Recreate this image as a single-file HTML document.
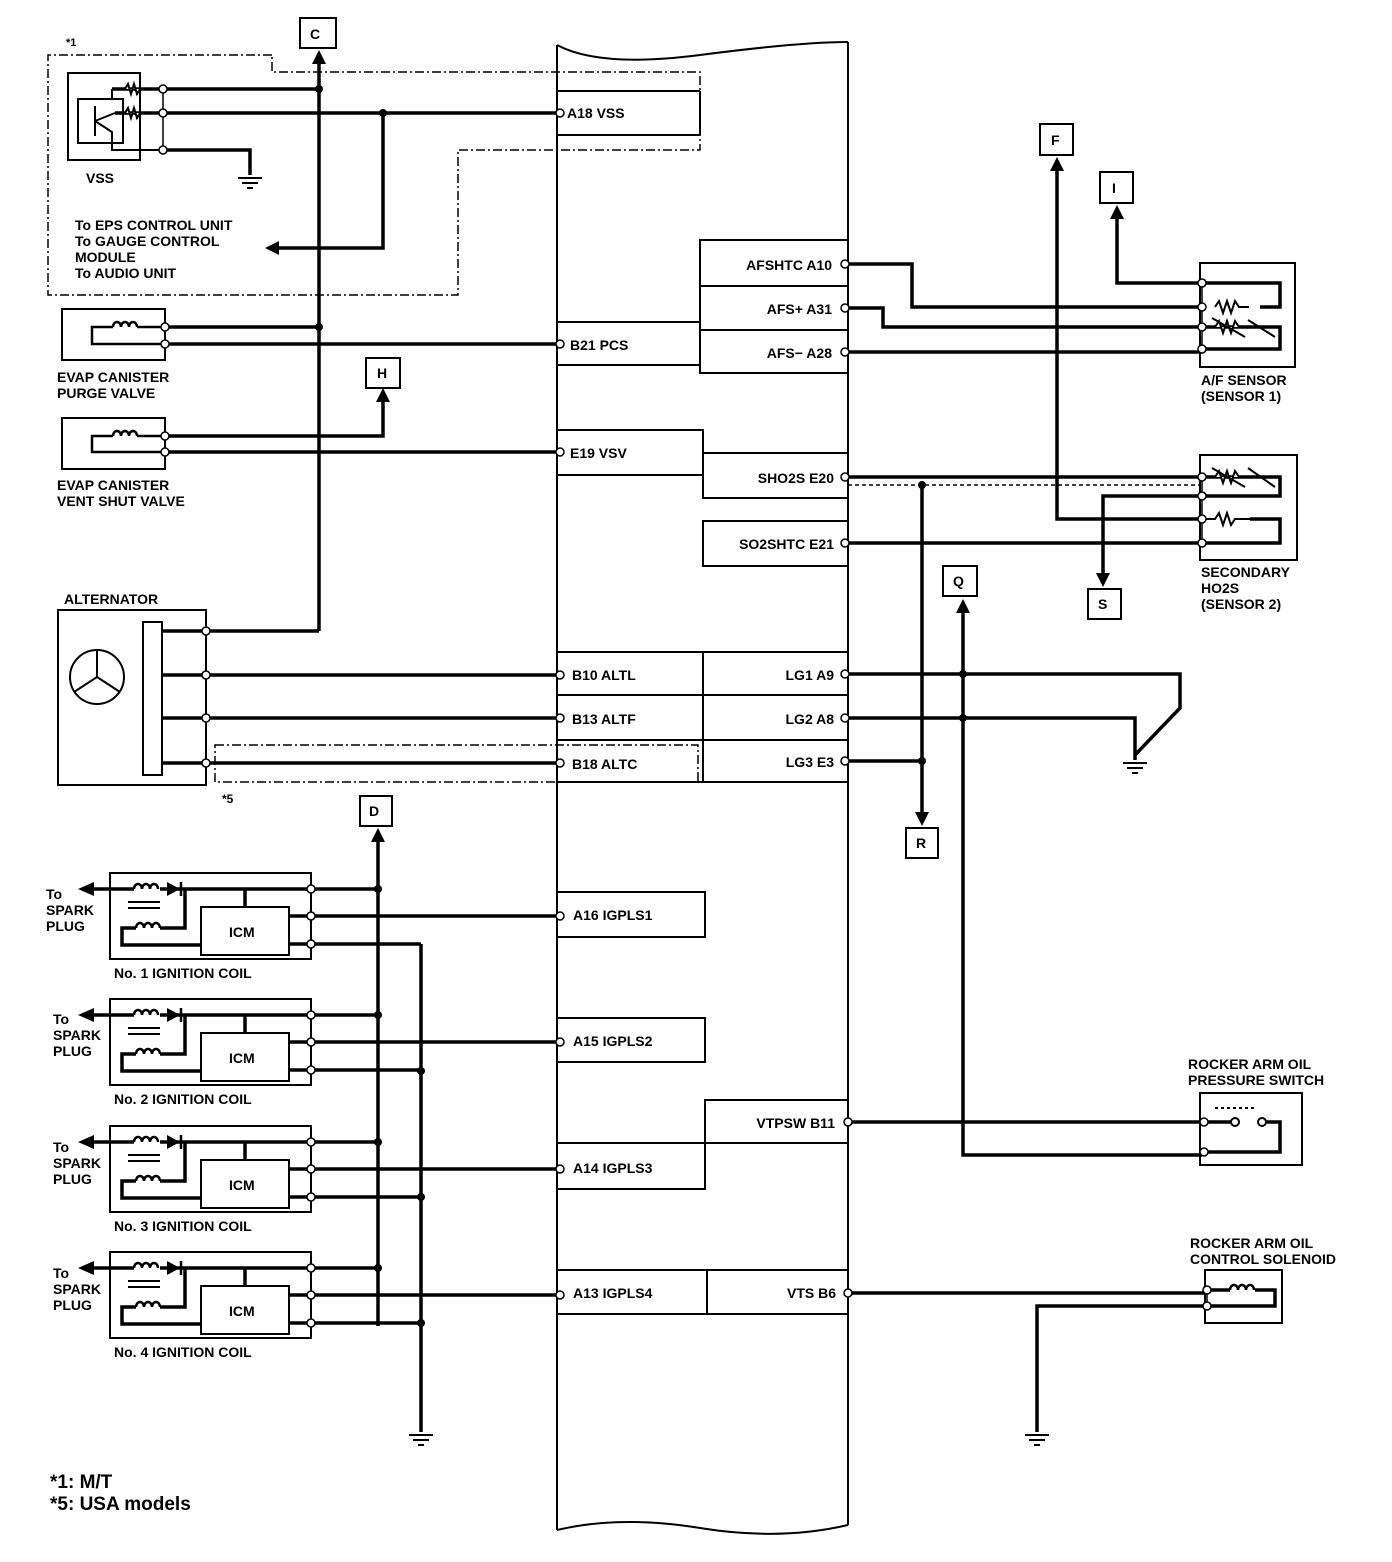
<!DOCTYPE html>
<html><head><meta charset="utf-8"><style>
html,body{margin:0;padding:0;background:#fff}
svg{display:block}
text{font-family:"Liberation Sans",sans-serif;font-weight:bold;font-size:14px;fill:#000}
</style></head><body>
<svg width="1392" height="1562" viewBox="0 0 1392 1562" xmlns="http://www.w3.org/2000/svg">
<defs>
<g id="coil">
<rect x="110" y="873" width="201" height="86" fill="none" stroke="#000" stroke-width="2"/>
<line x1="84" y1="889" x2="311" y2="889" stroke="#000" stroke-width="3.5"/>
<polygon points="78,889 94,882 94,896" fill="#000"/>
<rect x="134" y="884" width="26" height="10" fill="#fff"/>
<path d="M134 889 a4 5 0 0 1 8 0 a4 5 0 0 1 8 0 a4 5 0 0 1 8 0" fill="none" stroke="#000" stroke-width="2.5"/>
<polygon points="167,882 167,896 180,889" fill="#000"/>
<line x1="181" y1="882" x2="181" y2="896" stroke="#000" stroke-width="2.5"/>
<line x1="128" y1="902" x2="160" y2="902" stroke="#000" stroke-width="2"/>
<line x1="128" y1="908" x2="160" y2="908" stroke="#000" stroke-width="2"/>
<polyline points="185,889 185,928 160,928" fill="none" stroke="#000" stroke-width="3.5"/>
<path d="M136 928 a4 5 0 0 1 8 0 a4 5 0 0 1 8 0 a4 5 0 0 1 8 0" fill="none" stroke="#000" stroke-width="2.5"/>
<polyline points="136,928 122,928 122,945 201,945" fill="none" stroke="#000" stroke-width="3.5"/>
<rect x="201" y="907" width="88" height="48" fill="#fff" stroke="#000" stroke-width="2"/>
<line x1="245" y1="889" x2="245" y2="907" stroke="#000" stroke-width="3.5"/>
<line x1="289" y1="916" x2="311" y2="916" stroke="#000" stroke-width="3.5"/>
<line x1="289" y1="944" x2="311" y2="944" stroke="#000" stroke-width="3.5"/>
<line x1="311" y1="889" x2="311" y2="944" stroke="#000" stroke-width="1.5"/>
<line x1="311" y1="889" x2="378" y2="889" stroke="#000" stroke-width="3.5"/>
<line x1="311" y1="916" x2="560" y2="916" stroke="#000" stroke-width="3.5"/>
<line x1="311" y1="944" x2="421" y2="944" stroke="#000" stroke-width="3.5"/>
<circle cx="378" cy="889" r="4" fill="#000"/>
<circle cx="311" cy="889" r="4" fill="#fff" stroke="#000" stroke-width="1.5"/>
<circle cx="311" cy="916" r="4" fill="#fff" stroke="#000" stroke-width="1.5"/>
<circle cx="311" cy="944" r="4" fill="#fff" stroke="#000" stroke-width="1.5"/>
<circle cx="560" cy="916" r="4" fill="#fff" stroke="#000" stroke-width="1.5"/>
</g>
<g id="gnd" fill="none" stroke="#000" stroke-width="2">
<line x1="-12" y1="0" x2="12" y2="0"/><line x1="-8" y1="5" x2="8" y2="5"/><line x1="-3" y1="10" x2="3" y2="10"/>
</g>
</defs>

<g fill="none" stroke="#000" stroke-width="2">
<path d="M557 45 Q600 68 700 55 T848 42"/>
<line x1="557" y1="45" x2="557" y2="1530"/>
<line x1="848" y1="42" x2="848" y2="1525"/>
<path d="M557 1530 Q620 1515 700 1528 T848 1525"/>
<line x1="557" y1="91" x2="700" y2="91"/><line x1="557" y1="135" x2="700" y2="135"/><line x1="700" y1="91" x2="700" y2="135"/>
<rect x="557" y="322" width="143" height="43"/>
<rect x="557" y="430" width="146" height="45"/>
<rect x="703" y="453" width="145" height="45"/>
<rect x="703" y="521" width="145" height="45"/>
<rect x="700" y="240" width="148" height="133"/>
<line x1="700" y1="286" x2="848" y2="286"/><line x1="700" y1="330" x2="848" y2="330"/>
<rect x="557" y="652" width="291" height="130"/>
<line x1="703" y1="652" x2="703" y2="782"/>
<line x1="557" y1="695" x2="848" y2="695"/><line x1="557" y1="740" x2="848" y2="740"/>
<rect x="557" y="892" width="148" height="45"/>
<rect x="557" y="1018" width="148" height="44"/>
<rect x="557" y="1143" width="148" height="46"/>
<rect x="705" y="1100" width="143" height="43"/>
<rect x="557" y="1270" width="291" height="44"/>
<line x1="707" y1="1270" x2="707" y2="1314"/>
</g>

<g fill="none" stroke="#000" stroke-width="1.5" stroke-dasharray="9,3,2,3">
<polyline points="272,55 48,55 48,295 458,295 458,150 700,150 700,72 272,72 272,55"/>
<rect x="215" y="745" width="483" height="37"/>
</g>
<line x1="848" y1="485" x2="1200" y2="485" stroke="#000" stroke-width="1.5" stroke-dasharray="4,3"/>

<g fill="none" stroke="#000" stroke-width="3.5">
<line x1="319" y1="60" x2="319" y2="631"/>
<polyline points="206,631 319,631"/>
<line x1="163" y1="89" x2="319" y2="89"/>
<line x1="163" y1="113" x2="560" y2="113"/>
<polyline points="163,150 250,150 250,175"/>
<polyline points="383,113 383,248 275,248"/>
<line x1="165" y1="327" x2="319" y2="327"/>
<line x1="165" y1="344" x2="560" y2="344"/>
<polyline points="165,436 383,436 383,398"/>
<line x1="165" y1="452" x2="560" y2="452"/>
<line x1="162" y1="675" x2="560" y2="675"/>
<line x1="162" y1="718" x2="560" y2="718"/>
<line x1="162" y1="763" x2="560" y2="763"/>
<line x1="162" y1="631" x2="206" y2="631"/>
<line x1="378" y1="836" x2="378" y2="1326"/>
<line x1="421" y1="944" x2="421" y2="1432"/>
<polyline points="848,264 912,264 912,307 1202,307"/>
<polyline points="848,308 883,308 883,327 1202,327"/>
<line x1="848" y1="352" x2="1202" y2="352"/>
<polyline points="1117,215 1117,283 1202,283"/>
<polyline points="1057,165 1057,519 1202,519"/>
<polyline points="1202,283 1280,283 1280,307 1260,307"/>
<polyline points="1202,327 1280,327 1280,349 1202,349"/>
<line x1="848" y1="477" x2="1202" y2="477"/>
<polyline points="1202,477 1280,477 1280,496 1202,496"/>
<polyline points="1202,496 1103,496 1103,575"/>
<line x1="848" y1="543" x2="1202" y2="543"/>
<polyline points="1250,519 1280,519 1280,543 1202,543"/>
<line x1="922" y1="485" x2="922" y2="815"/>
<polyline points="848,674 1180,674 1180,708 1135,755"/>
<polyline points="848,718 1135,718 1135,760"/>
<line x1="848" y1="761" x2="922" y2="761"/>
<polyline points="963,610 963,1155 1202,1155"/>
<line x1="848" y1="1122" x2="1202" y2="1122"/>
<polyline points="1202,1122 1232,1122"/>
<polyline points="1262,1122 1280,1122 1280,1152 1202,1152"/>
<line x1="848" y1="1293" x2="1207" y2="1293"/>
<polyline points="1207,1306 1037,1306 1037,1432"/>
<polyline points="1207,1290 1230,1290"/>
<polyline points="1255,1290 1275,1290 1275,1306 1207,1306"/>
</g>

<g fill="none" stroke="#000" stroke-width="2">
<rect x="68" y="73" width="72" height="87"/>
<rect x="62" y="309" width="103" height="51"/>
<rect x="62" y="418" width="103" height="51"/>
<rect x="58" y="610" width="148" height="175"/>
<rect x="143" y="622" width="19" height="153" fill="#fff"/>
<circle cx="97" cy="677" r="27"/>
<path d="M97 677 L97 650 M97 677 L74 692 M97 677 L120 692"/>
<rect x="1200" y="263" width="95" height="104"/>
<rect x="1200" y="455" width="97" height="105"/>
<rect x="1200" y="1093" width="102" height="72"/>
<rect x="1205" y="1270" width="77" height="53"/>
<rect x="300" y="18" width="36" height="30"/>
<rect x="366" y="358" width="34" height="30"/>
<rect x="1040" y="124" width="33" height="31"/>
<rect x="1100" y="172" width="33" height="31"/>
<rect x="1088" y="589" width="33" height="30"/>
<rect x="943" y="566" width="34" height="30"/>
<rect x="906" y="828" width="32" height="30"/>
<rect x="360" y="796" width="32" height="30"/>
<rect x="78" y="99" width="45" height="44"/>
<polyline points="95,106 95,136"/>
<polyline points="95,121 115,113"/><polyline points="95,121 112,132 112,150 163,150"/>
<polyline points="112,89 112,99"/>
<polyline points="112,89 163,89" stroke-width="3.5"/>
<polyline points="115,113 163,113" stroke-width="3.5"/>
<path d="M125 89 l3 -5 l3 10 l3 -10 l3 10 l3 -5" fill="#fff" stroke-width="2"/>
<path d="M125 113 l3 -5 l3 10 l3 -10 l3 10 l3 -5" fill="#fff" stroke-width="2"/>
<line x1="163" y1="89" x2="163" y2="150" stroke-width="1.5"/>
<line x1="165" y1="327" x2="165" y2="344" stroke-width="1.5"/>
<line x1="165" y1="436" x2="165" y2="452" stroke-width="1.5"/>
<line x1="206" y1="631" x2="206" y2="763" stroke-width="1.5"/>
<line x1="1202" y1="283" x2="1202" y2="349" stroke-width="1.5"/>
<line x1="1202" y1="477" x2="1202" y2="543" stroke-width="1.5"/>
<polyline points="165,327 92,327 92,344 165,344" stroke-width="2.5"/>
<polyline points="165,436 92,436 92,452 165,452" stroke-width="2.5"/>
<rect x="113" y="322" width="24" height="10" fill="#fff" stroke="none"/>
<rect x="113" y="431" width="24" height="10" fill="#fff" stroke="none"/>
<path d="M113 327 a4 5 0 0 1 8 0 a4 5 0 0 1 8 0 a4 5 0 0 1 8 0" stroke-width="2.5"/>
<path d="M113 436 a4 5 0 0 1 8 0 a4 5 0 0 1 8 0 a4 5 0 0 1 8 0" stroke-width="2.5"/>
<path d="M1215 307 l4 -6 l4 12 l4 -12 l4 12 l4 -12 l4 6 h10" fill="#fff"/>
<path d="M1215 327 l4 -6 l4 12 l4 -12 l4 12 l4 -12 l4 6 h30" fill="#fff"/>
<line x1="1212" y1="318" x2="1245" y2="337"/><line x1="1248" y1="320" x2="1275" y2="337"/>
<path d="M1215 477 l4 -6 l4 12 l4 -12 l4 12 l4 -12 l4 6 h30" fill="#fff"/>
<line x1="1212" y1="468" x2="1245" y2="487"/><line x1="1248" y1="468" x2="1275" y2="487"/>
<path d="M1202 519 h13 l4 -6 l4 12 l4 -12 l4 12 l4 -6 h15" fill="#fff"/>
<line x1="1215" y1="1108" x2="1255" y2="1108" stroke-dasharray="3,3"/>
<circle cx="1235" cy="1122" r="4" fill="#fff"/><circle cx="1262" cy="1122" r="4" fill="#fff"/>
<rect x="1230" y="1285" width="25" height="10" fill="#fff" stroke="none"/>
<path d="M1230 1290 a4 5 0 0 1 8 0 a4 5 0 0 1 8 0 a4 5 0 0 1 8 0" stroke-width="2.5"/>
<line x1="1207" y1="1290" x2="1207" y2="1306" stroke-width="1.5"/>
</g>

<g fill="#000">
<polygon points="319,50 312,64 326,64"/>
<polygon points="383,388 376,402 390,402"/>
<polygon points="378,828 371,842 385,842"/>
<polygon points="1057,157 1050,171 1064,171"/>
<polygon points="1117,205 1110,219 1124,219"/>
<polygon points="963,599 956,613 970,613"/>
<polygon points="1103,587 1096,573 1110,573"/>
<polygon points="922,826 915,812 929,812"/>
<polygon points="265,248 279,241 279,255"/>
</g>

<use href="#coil"/>
<use href="#coil" transform="translate(0,126)"/>
<use href="#coil" transform="translate(0,253)"/>
<use href="#coil" transform="translate(0,379)"/>

<use href="#gnd" transform="translate(250,178)"/>
<use href="#gnd" transform="translate(1135,763)"/>
<use href="#gnd" transform="translate(421,1435)"/>
<use href="#gnd" transform="translate(1037,1435)"/>

<g fill="#000">
<circle cx="319" cy="89" r="4"/><circle cx="383" cy="113" r="4"/><circle cx="319" cy="327" r="4"/>
<circle cx="922" cy="485" r="4"/><circle cx="922" cy="761" r="4"/>
<circle cx="963" cy="674" r="4"/><circle cx="963" cy="718" r="4"/>
<circle cx="421" cy="1071" r="4"/><circle cx="421" cy="1197" r="4"/><circle cx="421" cy="1323" r="4"/>
</g>
<g fill="#fff" stroke="#000" stroke-width="1.5">
<circle cx="163" cy="89" r="4"/><circle cx="163" cy="113" r="4"/><circle cx="163" cy="150" r="4"/>
<circle cx="165" cy="327" r="4"/><circle cx="165" cy="344" r="4"/>
<circle cx="165" cy="436" r="4"/><circle cx="165" cy="452" r="4"/>
<circle cx="206" cy="631" r="4"/><circle cx="206" cy="675" r="4"/><circle cx="206" cy="718" r="4"/><circle cx="206" cy="763" r="4"/>
<circle cx="560" cy="113" r="4"/><circle cx="560" cy="344" r="4"/><circle cx="560" cy="452" r="4"/>
<circle cx="560" cy="675" r="4"/><circle cx="560" cy="718" r="4"/><circle cx="560" cy="763" r="4"/>
<circle cx="845" cy="264" r="4"/><circle cx="845" cy="308" r="4"/><circle cx="845" cy="352" r="4"/>
<circle cx="845" cy="477" r="4"/><circle cx="845" cy="543" r="4"/>
<circle cx="845" cy="674" r="4"/><circle cx="845" cy="718" r="4"/><circle cx="845" cy="761" r="4"/>
<circle cx="848" cy="1122" r="4"/><circle cx="848" cy="1293" r="4"/>
<circle cx="1202" cy="283" r="4"/><circle cx="1202" cy="307" r="4"/><circle cx="1202" cy="327" r="4"/><circle cx="1202" cy="349" r="4"/>
<circle cx="1202" cy="477" r="4"/><circle cx="1202" cy="496" r="4"/><circle cx="1202" cy="519" r="4"/><circle cx="1202" cy="543" r="4"/>
<circle cx="1204" cy="1122" r="4"/><circle cx="1204" cy="1152" r="4"/>
<circle cx="1207" cy="1290" r="4"/><circle cx="1207" cy="1306" r="4"/>
</g>

<g>
<text x="310" y="39">C</text><text x="377" y="378">H</text><text x="1051" y="145">F</text><text x="1112" y="193">I</text>
<text x="1098" y="609">S</text><text x="953" y="586">Q</text><text x="916" y="848">R</text><text x="369" y="816">D</text>
<text x="66" y="46" style="font-size:11px">*1</text>
<text x="86" y="183">VSS</text>
<text x="75" y="230">To EPS CONTROL UNIT</text>
<text x="75" y="246">To GAUGE CONTROL</text>
<text x="75" y="262">MODULE</text>
<text x="75" y="278">To AUDIO UNIT</text>
<text x="57" y="382">EVAP CANISTER</text>
<text x="57" y="398">PURGE VALVE</text>
<text x="57" y="490">EVAP CANISTER</text>
<text x="57" y="506">VENT SHUT VALVE</text>
<text x="64" y="604">ALTERNATOR</text>
<text x="222" y="803" style="font-size:12px">*5</text>
<text x="567" y="118">A18 VSS</text>
<text x="570" y="350">B21 PCS</text>
<text x="570" y="458">E19 VSV</text>
<text x="572" y="680">B10 ALTL</text>
<text x="572" y="724">B13 ALTF</text>
<text x="572" y="769">B18 ALTC</text>
<text x="573" y="920">A16 IGPLS1</text>
<text x="573" y="1046">A15 IGPLS2</text>
<text x="573" y="1173">A14 IGPLS3</text>
<text x="573" y="1298">A13 IGPLS4</text>
<text x="832" y="270" text-anchor="end">AFSHTC A10</text>
<text x="832" y="314" text-anchor="end">AFS+ A31</text>
<text x="832" y="358" text-anchor="end">AFS− A28</text>
<text x="834" y="483" text-anchor="end">SHO2S E20</text>
<text x="834" y="549" text-anchor="end">SO2SHTC E21</text>
<text x="834" y="680" text-anchor="end">LG1 A9</text>
<text x="834" y="724" text-anchor="end">LG2 A8</text>
<text x="834" y="767" text-anchor="end">LG3 E3</text>
<text x="835" y="1128" text-anchor="end">VTPSW B11</text>
<text x="836" y="1298" text-anchor="end">VTS B6</text>
<text x="1201" y="385">A/F SENSOR</text>
<text x="1201" y="401">(SENSOR 1)</text>
<text x="1201" y="577">SECONDARY</text>
<text x="1201" y="593">HO2S</text>
<text x="1201" y="609">(SENSOR 2)</text>
<text x="1188" y="1069">ROCKER ARM OIL</text>
<text x="1188" y="1085">PRESSURE SWITCH</text>
<text x="1190" y="1248">ROCKER ARM OIL</text>
<text x="1190" y="1264">CONTROL SOLENOID</text>
<text x="229" y="937">ICM</text><text x="229" y="1063">ICM</text><text x="229" y="1190">ICM</text><text x="229" y="1316">ICM</text>
<text x="114" y="978">No. 1 IGNITION COIL</text>
<text x="114" y="1104">No. 2 IGNITION COIL</text>
<text x="114" y="1231">No. 3 IGNITION COIL</text>
<text x="114" y="1357">No. 4 IGNITION COIL</text>
<text x="46" y="899">To</text><text x="46" y="915">SPARK</text><text x="46" y="931">PLUG</text>
<text x="53" y="1024">To</text><text x="53" y="1040">SPARK</text><text x="53" y="1056">PLUG</text>
<text x="53" y="1152">To</text><text x="53" y="1168">SPARK</text><text x="53" y="1184">PLUG</text>
<text x="53" y="1278">To</text><text x="53" y="1294">SPARK</text><text x="53" y="1310">PLUG</text>
<text x="50" y="1488" style="font-size:19px">*1: M/T</text>
<text x="50" y="1510" style="font-size:19px">*5: USA models</text>
</g>
</svg>
</body></html>
